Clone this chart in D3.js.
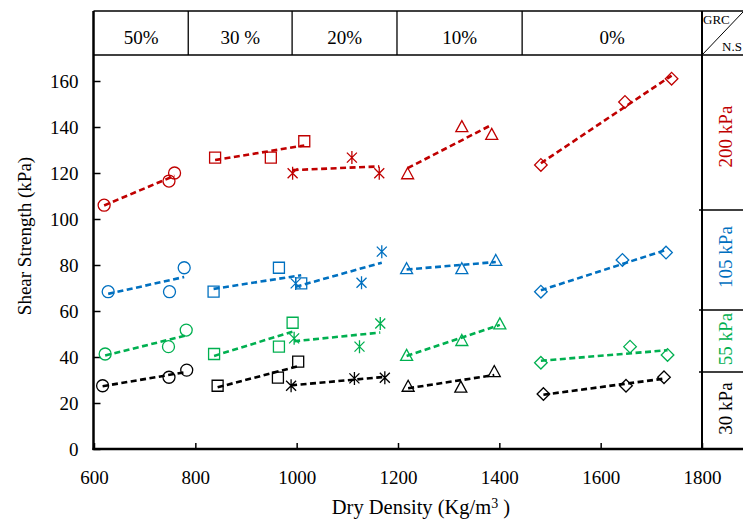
<!DOCTYPE html>
<html>
<head>
<meta charset="utf-8">
<script src="https://cdn.jsdelivr.net/npm/d3@7"></script>
<style>
  html, body { margin: 0; padding: 0; background: #fff; }
  svg { display: block; }
  svg text { font-family: "Liberation Serif", "Times New Roman", Times, "DejaVu Serif", serif !important; }
</style>
</head>
<body>
<svg id="chart" width="743" height="523"></svg>
<script>
// GRC replacement levels (header row) and their marker shapes
const grcLabels = ["50%", "30 %", "20%", "10%", "0%"];
const grcMarkers = ["circle", "square", "asterisk", "triangle", "diamond"];
// density boundaries between GRC columns in the header
const grcBounds = [600, 786, 991, 1198, 1445, 1800];

// normal stress levels (right column)
const stressLabels = ["200 kPa", "105 kPa", "55 kPa", "30 kPa"];
const stressColors = ["#C00000", "#0070C0", "#00B050", "#000000"];

// dry density (kg/m3) per GRC level, for each normal stress
const density200 = [[620, 748, 759], [839, 949, 1015], [992, 1109, 1163], [1219, 1326, 1385], [1482, 1648, 1740]];
const density105 = [[628, 749, 778], [836, 965, 1009], [998, 1128, 1168], [1217, 1326, 1393], [1482, 1643, 1729]];
const density55  = [[622, 747, 782], [837, 965, 992], [995, 1124, 1165], [1217, 1326, 1401], [1482, 1658, 1732]];
const density30  = [[617, 748, 783], [844, 963, 1003], [989, 1114, 1174], [1220, 1324, 1390], [1487, 1650, 1725]];

// shear strength (kPa) per GRC level, for each normal stress
const shear200 = [[106, 116.5, 120], [126.7, 126.7, 133.8], [119.9, 126.7, 119.9], [119.9, 140.4, 137], [123.5, 150.9, 161]];
const shear105 = [[68.4, 68.4, 78.8], [68.4, 78.8, 72], [72, 72.3, 85.8], [78.6, 78.6, 82.2], [68.4, 82.2, 85.4]];
const shear55  = [[41.3, 44.5, 51.7], [41.3, 44.5, 54.9], [48.1, 44.5, 54.6], [40.9, 47.4, 54.6], [37.5, 44.5, 40.9]];
const shear30  = [[27.5, 31.2, 34.3], [27.5, 31, 38], [27.5, 30.7, 31], [27.5, 27.1, 33.9], [23.9, 27.5, 31.2]];

const xTicks = [600, 800, 1000, 1200, 1400, 1600, 1800];
const yTicks = [0, 20, 40, 60, 80, 100, 120, 140, 160];

const densities = [density200, density105, density55, density30];
const shears = [shear200, shear105, shear55, shear30];

const SERIF = '"Liberation Serif", "Times New Roman", Times, "DejaVu Serif", serif';

const svg = d3.select("#chart");
const W = 743;
const frameLeft = 93.5, frameRight = 702, frameTop = 11, headerBottom = 55, frameBottom = 449;
// right-column cell boundaries (pixels)
const rowBounds = [headerBottom, 210, 310, 372, frameBottom];

const x = d3.scaleLinear().domain([600, 1800]).range([94, 702]);
const y = d3.scaleLinear().domain([0, 160]).range([449, 81]);

// ---- axes ----
const yAxis = d3.axisLeft(y).tickValues(yTicks).tickFormat(d3.format("d"))
  .tickSizeInner(-7).tickSizeOuter(0).tickPadding(15);
const gy = svg.append("g").attr("transform", `translate(${frameLeft},0)`).call(yAxis)
  .attr("font-family", SERIF).attr("font-size", 19);
gy.select(".domain").remove();
gy.selectAll(".tick line").attr("stroke", "#000").attr("stroke-width", 1.5);
gy.selectAll(".tick text").attr("fill", "#000");

const xAxis = d3.axisBottom(x).tickValues(xTicks).tickFormat(d3.format("d"))
  .tickSizeInner(-6).tickSizeOuter(0).tickPadding(22);
const gx = svg.append("g").attr("transform", `translate(0,${frameBottom})`).call(xAxis)
  .attr("font-family", SERIF).attr("font-size", 19);
gx.select(".domain").remove();
gx.selectAll(".tick line").attr("stroke", "#000").attr("stroke-width", 1.5);
gx.selectAll(".tick text").attr("fill", "#000");

// ---- frame: header row, right column ----
const frame = svg.append("g").attr("stroke", "#000").attr("fill", "none");
frame.append("line").attr("x1", frameLeft).attr("x2", W).attr("y1", frameTop).attr("y2", frameTop).attr("stroke-width", 1.5);
frame.append("line").attr("x1", frameLeft).attr("x2", W).attr("y1", headerBottom).attr("y2", headerBottom).attr("stroke-width", 1.5);
grcBounds.slice(1, -1).forEach(b => {
  frame.append("line").attr("x1", x(b)).attr("x2", x(b)).attr("y1", frameTop).attr("y2", headerBottom).attr("stroke-width", 1.3);
});
// diagonal of the GRC / N.S corner cell
frame.append("line").attr("x1", frameRight).attr("y1", headerBottom).attr("x2", W).attr("y2", frameTop + 1).attr("stroke-width", 1);
rowBounds.slice(1, -1).forEach(b => {
  frame.append("line").attr("x1", frameRight - 3).attr("x2", W).attr("y1", b).attr("y2", b).attr("stroke-width", 1.5);
});
frame.append("line").attr("x1", frameRight).attr("x2", frameRight).attr("y1", frameTop).attr("y2", frameBottom).attr("stroke-width", 2);
frame.append("line").attr("x1", frameLeft).attr("x2", frameLeft).attr("y1", frameTop).attr("y2", frameBottom + 1).attr("stroke-width", 2.5);
frame.append("line").attr("x1", frameLeft - 1).attr("x2", W).attr("y1", frameBottom).attr("y2", frameBottom).attr("stroke-width", 2.5);

const labels = svg.append("g").attr("font-family", SERIF).attr("fill", "#000");

// header labels
grcLabels.forEach((lab, i) => {
  const cx = (x(grcBounds[i]) + x(grcBounds[i + 1])) / 2;
  labels.append("text").attr("x", cx).attr("y", 44).attr("text-anchor", "middle")
    .attr("font-size", 19).text(lab);
});
labels.append("text").attr("x", 703).attr("y", 24).attr("font-size", 13).text("GRC");
labels.append("text").attr("x", 722).attr("y", 51).attr("font-size", 13).text("N.S");

// right column labels
stressLabels.forEach((lab, i) => {
  const cy = (rowBounds[i] + rowBounds[i + 1]) / 2 + (i === 0 ? 4 : i === 1 ? -3 : -2);
  labels.append("text").attr("transform", `translate(732,${cy}) rotate(-90)`)
    .attr("text-anchor", "middle").attr("fill", stressColors[i])
    .attr("font-size", 19).text(lab);
});

// axis titles
labels.append("text").attr("transform", "translate(31,236) rotate(-90)").attr("text-anchor", "middle")
  .attr("font-size", 19).text("Shear Strength (kPa)");
const xt = labels.append("text").attr("x", 421).attr("y", 514).attr("text-anchor", "middle").attr("font-size", 20.5);
xt.append("tspan").text("Dry Density (Kg/m");
xt.append("tspan").attr("dy", -6).attr("font-size", 14).text("3");
xt.append("tspan").attr("dy", 6).text(" )");

// ---- marker shapes ----
const markerPath = {
  circle: "M6,0A6,6 0 1,1 -6,0A6,6 0 1,1 6,0Z",
  square: "M-5.5,-5.5H5.5V5.5H-5.5Z",
  triangle: "M0,-5.5L6,5.5H-6Z",
  diamond: "M0,-6.3L6.3,0L0,6.3L-6.3,0Z",
  asterisk: "M-5,-5L5,5M-5,5L5,-5M0,-6.5V6.5"
};

// least-squares trend line over the points of one group
function fitLine(xs, ys) {
  const mx = d3.mean(xs), my = d3.mean(ys);
  let sxy = 0, sxx = 0;
  xs.forEach((v, i) => { sxy += (v - mx) * (ys[i] - my); sxx += (v - mx) * (v - mx); });
  const k = sxy / sxx;
  const x0 = d3.min(xs), x1 = d3.max(xs);
  return [[x0, my + k * (x0 - mx)], [x1, my + k * (x1 - mx)]];
}

const line = d3.line().x(d => x(d[0])).y(d => y(d[1]));
const plot = svg.append("g");

densities.forEach((byGrc, s) => {
  const color = stressColors[s];
  byGrc.forEach((xs, g) => {
    const ys = shears[s][g];
    plot.append("path").attr("d", line(fitLine(xs, ys)))
      .attr("fill", "none").attr("stroke", color).attr("stroke-width", 2.6)
      .attr("stroke-dasharray", "6,3.5");
    const pts = xs.map((v, i) => [v, ys[i]]);
    plot.append("g").selectAll("path").data(pts).join("path")
      .attr("transform", d => `translate(${x(d[0])},${y(d[1])})`)
      .attr("d", markerPath[grcMarkers[g]])
      .attr("fill", "none").attr("stroke", color).attr("stroke-width", 1.3);
  });
});
</script>
</body>
</html>
